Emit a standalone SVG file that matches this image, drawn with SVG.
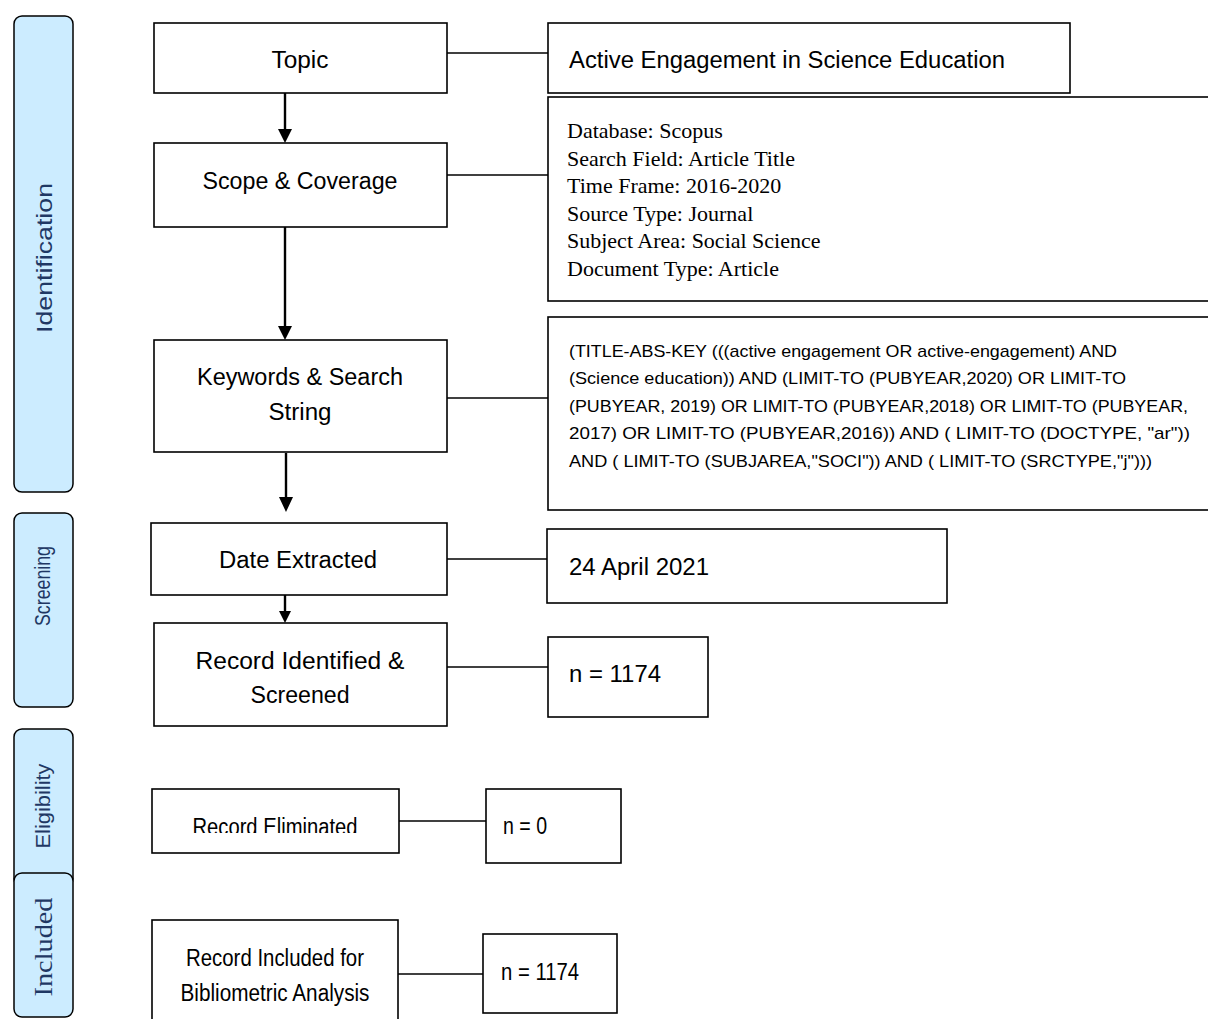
<svg xmlns="http://www.w3.org/2000/svg" width="1208" height="1019" viewBox="0 0 1208 1019">
<style>
.side{fill:#CCECFF;stroke:#000;stroke-width:1.5}
.sl{fill:#1F3864;font-family:"Liberation Sans",Arial,sans-serif;text-anchor:middle}
.box{fill:#fff;stroke:#000;stroke-width:1.6}
.t{font-family:"Liberation Sans",Arial,sans-serif;font-size:23px;fill:#000}
.c{text-anchor:middle}
.tr{font-family:"Liberation Serif","Times New Roman",serif;font-size:22px;fill:#000}
.ts{font-family:"Liberation Sans",Arial,sans-serif;font-size:17px;fill:#000}
.ln{stroke:#000;stroke-width:1.4;fill:none}
.ar{stroke:#000;stroke-width:2.4;fill:none}
.ah{fill:#000}
</style>
<defs>
<clipPath id="clipElim"><rect x="150" y="780" width="260" height="53"/></clipPath>
</defs>
<rect width="1208" height="1019" fill="#fff"/>

<g id="phase-identification">
<rect class="side" x="14" y="16" width="59" height="476" rx="8"/>
<text class="sl" font-size="22" textLength="150" lengthAdjust="spacingAndGlyphs" transform="translate(52,258) rotate(-90)">Identification</text>
</g>
<g id="phase-screening">
<rect class="side" x="14" y="513" width="59" height="194" rx="8"/>
<text class="sl" font-size="22" textLength="80" lengthAdjust="spacingAndGlyphs" transform="translate(50,586) rotate(-90)">Screening</text>
</g>
<g id="phase-eligibility">
<rect class="side" x="14" y="729" width="59" height="158" rx="8"/>
<text class="sl" font-size="21" textLength="85" lengthAdjust="spacingAndGlyphs" transform="translate(50,806) rotate(-90)">Eligibility</text>
</g>
<g id="phase-included">
<rect class="side" x="14" y="873" width="59" height="144" rx="8"/>
<text class="sl" style="font-family:'Liberation Serif','Times New Roman',serif" font-size="26" textLength="99" lengthAdjust="spacingAndGlyphs" transform="translate(52,947) rotate(-90)">Included</text>
</g>

<g id="connectors">
<line class="ln" x1="447" y1="53" x2="548" y2="53"/>
<line class="ln" x1="447" y1="175" x2="548" y2="175"/>
<line class="ln" x1="447" y1="398" x2="548" y2="398"/>
<line class="ln" x1="447" y1="559" x2="548" y2="559"/>
<line class="ln" x1="447" y1="667" x2="548" y2="667"/>
<line class="ln" x1="399" y1="821" x2="486" y2="821"/>
<line class="ln" x1="398" y1="974" x2="483" y2="974"/>
<line class="ar" x1="285" y1="93" x2="285" y2="130"/>
<polygon class="ah" points="278,129 292,129 285,143"/>
<line class="ar" x1="285" y1="227" x2="285" y2="327"/>
<polygon class="ah" points="278,326 292,326 285,340"/>
<line class="ar" x1="286" y1="453" x2="286" y2="498"/>
<polygon class="ah" points="279,497 293,497 286,512"/>
<line class="ar" x1="285" y1="595" x2="285" y2="612"/>
<polygon class="ah" points="279,611 291,611 285,623"/>
</g>

<g id="node-topic">
<rect class="box" x="154" y="23" width="293" height="70"/>
<text class="t c" x="300" y="68" textLength="57" lengthAdjust="spacingAndGlyphs">Topic</text>
</g>
<g id="node-topic-detail">
<rect class="box" x="548" y="23" width="522" height="70"/>
<text class="t" x="569" y="68" textLength="436" lengthAdjust="spacingAndGlyphs">Active Engagement in Science Education</text>
</g>
<g id="node-scope">
<rect class="box" x="154" y="143" width="293" height="84"/>
<text class="t c" x="300" y="189" textLength="195" lengthAdjust="spacingAndGlyphs">Scope &amp; Coverage</text>
</g>
<g id="node-scope-detail">
<rect class="box" x="548" y="97" width="670" height="204"/>
<text class="tr" x="567" y="138">Database: Scopus</text>
<text class="tr" x="567" y="166">Search Field: Article Title</text>
<text class="tr" x="567" y="193">Time Frame: 2016-2020</text>
<text class="tr" x="567" y="221">Source Type: Journal</text>
<text class="tr" x="567" y="248">Subject Area: Social Science</text>
<text class="tr" x="567" y="276">Document Type: Article</text>
</g>
<g id="node-keywords">
<rect class="box" x="154" y="340" width="293" height="112"/>
<text class="t c" x="300" y="385" textLength="206" lengthAdjust="spacingAndGlyphs">Keywords &amp; Search</text>
<text class="t c" x="300" y="420" textLength="63" lengthAdjust="spacingAndGlyphs">String</text>
</g>
<g id="node-keywords-detail">
<rect class="box" x="548" y="317" width="670" height="193"/>
<text class="ts" x="569" y="357" textLength="548" lengthAdjust="spacingAndGlyphs">(TITLE-ABS-KEY (((active engagement OR active-engagement) AND</text>
<text class="ts" x="569" y="384" textLength="557" lengthAdjust="spacingAndGlyphs">(Science education)) AND (LIMIT-TO (PUBYEAR,2020) OR LIMIT-TO</text>
<text class="ts" x="569" y="412" textLength="619" lengthAdjust="spacingAndGlyphs">(PUBYEAR, 2019) OR LIMIT-TO (PUBYEAR,2018) OR LIMIT-TO (PUBYEAR,</text>
<text class="ts" x="569" y="439" textLength="621" lengthAdjust="spacingAndGlyphs">2017) OR LIMIT-TO (PUBYEAR,2016)) AND ( LIMIT-TO (DOCTYPE, "ar"))</text>
<text class="ts" x="569" y="467" textLength="583" lengthAdjust="spacingAndGlyphs">AND ( LIMIT-TO (SUBJAREA,"SOCI")) AND ( LIMIT-TO (SRCTYPE,"j")))</text>
</g>
<g id="node-date">
<rect class="box" x="151" y="523" width="296" height="72"/>
<text class="t c" x="298" y="568" textLength="158" lengthAdjust="spacingAndGlyphs">Date Extracted</text>
</g>
<g id="node-date-detail">
<rect class="box" x="547" y="529" width="400" height="74"/>
<text class="t" x="569" y="575" textLength="140" lengthAdjust="spacingAndGlyphs">24 April 2021</text>
</g>
<g id="node-identified">
<rect class="box" x="154" y="623" width="293" height="103"/>
<text class="t c" x="300" y="669" textLength="209" lengthAdjust="spacingAndGlyphs">Record Identified &amp;</text>
<text class="t c" x="300" y="703" textLength="99" lengthAdjust="spacingAndGlyphs">Screened</text>
</g>
<g id="node-identified-detail">
<rect class="box" x="548" y="637" width="160" height="80"/>
<text class="t" x="569" y="682" textLength="92" lengthAdjust="spacingAndGlyphs">n = 1174</text>
</g>
<g id="node-eliminated">
<rect class="box" x="152" y="789" width="247" height="64"/>
<text class="t c" x="275" y="835" textLength="165" lengthAdjust="spacingAndGlyphs" clip-path="url(#clipElim)">Record Eliminated</text>
</g>
<g id="node-eliminated-detail">
<rect class="box" x="486" y="789" width="135" height="74"/>
<text class="t" x="503" y="834" textLength="44" lengthAdjust="spacingAndGlyphs">n = 0</text>
</g>
<g id="node-included">
<rect class="box" x="152" y="920" width="246" height="110"/>
<text class="t c" x="275" y="966" textLength="178" lengthAdjust="spacingAndGlyphs">Record Included for</text>
<text class="t c" x="275" y="1001" textLength="189" lengthAdjust="spacingAndGlyphs">Bibliometric Analysis</text>
</g>
<g id="node-included-detail">
<rect class="box" x="483" y="934" width="134" height="79"/>
<text class="t" x="501" y="980" textLength="78" lengthAdjust="spacingAndGlyphs">n = 1174</text>
</g>
</svg>
